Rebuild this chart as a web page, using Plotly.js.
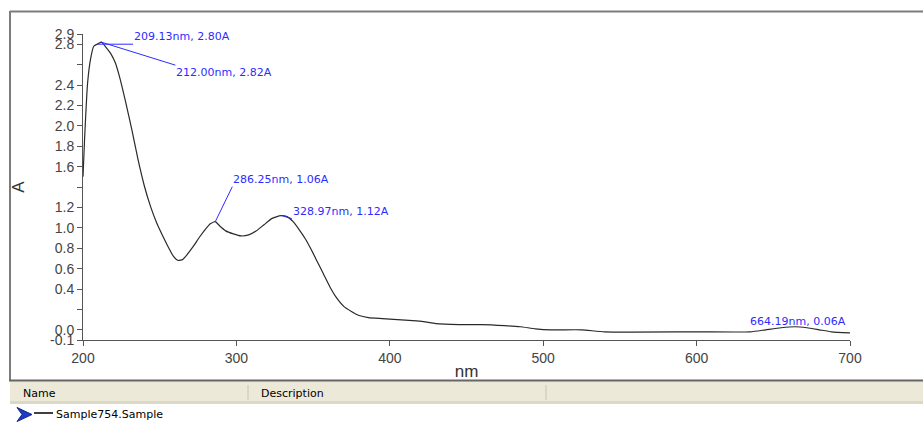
<!DOCTYPE html>
<html><head><meta charset="utf-8">
<script src="https://cdn.plot.ly/plotly-3.0.1.min.js"></script>
<style>html,body{margin:0;padding:0;background:#fff;overflow:hidden}#chart{width:923px;height:426px}</style>
</head><body><div id="chart"></div>
<script>
// ---- data ----
const wavelength = [200, 201, 203, 205, 207, 209.13, 212, 215, 218, 221, 224, 228, 232, 236, 240, 244, 248, 252, 256, 259, 262, 265, 268, 272, 276, 280, 283, 286.25, 289, 293, 298, 303, 308, 313, 318, 323, 328.97, 333, 337, 341, 345, 349, 353, 357, 361, 365, 370, 375, 380, 386, 395, 405, 415, 422, 430, 445, 460, 475, 485, 495, 505, 525, 540, 600, 635, 645, 655, 664.19, 672, 680, 688, 700];
const absorbance = [1.50, 1.86, 2.42, 2.66, 2.78, 2.80, 2.82, 2.77, 2.71, 2.62, 2.47, 2.22, 1.95, 1.66, 1.41, 1.21, 1.05, 0.92, 0.80, 0.72, 0.68, 0.69, 0.74, 0.82, 0.91, 0.99, 1.04, 1.06, 1.02, 0.97, 0.94, 0.92, 0.93, 0.97, 1.03, 1.09, 1.12, 1.11, 1.06, 0.98, 0.89, 0.78, 0.66, 0.54, 0.42, 0.32, 0.23, 0.18, 0.14, 0.12, 0.11, 0.10, 0.09, 0.08, 0.06, 0.05, 0.05, 0.04, 0.03, 0.01, 0.00, 0.00, -0.02, -0.02, -0.02, 0.00, 0.02, 0.03, 0.02, 0.00, -0.02, -0.03];
const peakNm = [209.13, 212.00, 286.25, 328.97, 664.19];
const peakA = [2.80, 2.82, 1.06, 1.12, 0.06];
const yTickVals = [-0.1, 0.0, 0.2, 0.4, 0.6, 0.8, 1.0, 1.2, 1.4, 1.6, 1.8, 2.0, 2.2, 2.4, 2.6, 2.8, 2.9];
const yTickText = ['-0.1', '0.0', '', '0.4', '0.6', '0.8', '1.0', '1.2', '', '1.6', '1.8', '2.0', '2.2', '2.4', '', '2.8', '2.9'];
const xTickVals = [200, 300, 400, 500, 600, 700];
const xTickText = ['200', '300', '400', '500', '600', '700'];
const seriesName = 'Sample754.Sample';
const columnHeaders = ['Name', 'Description'];

// ---- layout helpers (pixel -> paper) ----
const L = 83, R = 850, T = 34, B = 340;
function px(x){ return (x - L) / (R - L); }
function py(y){ return (B - y) / (B - T); }

const peakStyle = [
  {ax: 36, ay: 0, xanchor: 'left', yanchor: 'bottom'},
  {ax: 74, ay: 23, xanchor: 'left', yanchor: 'top'},
  {ax: 17, ay: -35, xanchor: 'left', yanchor: 'bottom'},
  {ax: 11, ay: 3, xanchor: 'left', yanchor: 'bottom'},
  {ax: 52, ay: 5, xanchor: 'right', yanchor: 'bottom'}
];

const blue = '#2c2cff';
const annotations = peakNm.map((nm, i) => Object.assign({
  x: nm, y: peakA[i], xref: 'x', yref: 'y',
  text: nm.toFixed(2) + 'nm, ' + peakA[i].toFixed(2) + 'A',
  showarrow: true, arrowhead: 0, arrowwidth: 1, arrowcolor: blue,
  borderpad: 0,
  font: {family: 'DejaVu Sans', size: 11, color: blue}
}, peakStyle[i]));

// table header and legend row texts
annotations.push({xref: 'paper', yref: 'paper', x: px(21), y: py(393), xanchor: 'left', yanchor: 'middle',
  text: columnHeaders[0], showarrow: false, font: {family: 'DejaVu Sans', size: 11, color: '#000'}});
annotations.push({xref: 'paper', yref: 'paper', x: px(259), y: py(393), xanchor: 'left', yanchor: 'middle',
  text: columnHeaders[1], showarrow: false, font: {family: 'DejaVu Sans', size: 11, color: '#000'}});
annotations.push({xref: 'paper', yref: 'paper', x: px(54), y: py(414), xanchor: 'left', yanchor: 'middle',
  text: seriesName, showarrow: false, font: {family: 'DejaVu Sans', size: 11, color: '#000'}});

const shapes = [
  // outer frame
  {type: 'line', xref: 'paper', yref: 'paper', x0: px(10), x1: px(923), y0: py(11.5), y1: py(11.5), line: {color: '#7c7c7c', width: 2}},
  {type: 'line', xref: 'paper', yref: 'paper', x0: px(10), x1: px(10), y0: py(11), y1: py(380), line: {color: '#7c7c7c', width: 2}},
  // header band
  {type: 'rect', xref: 'paper', yref: 'paper', x0: px(10), x1: px(923), y0: py(381), y1: py(404), fillcolor: '#ece9d8', line: {width: 0}},
  {type: 'rect', xref: 'paper', yref: 'paper', x0: px(10), x1: px(923), y0: py(401), y1: py(404), fillcolor: '#dcd8c6', line: {width: 0}},
  {type: 'line', xref: 'paper', yref: 'paper', x0: px(9), x1: px(923), y0: py(380.5), y1: py(380.5), line: {color: '#666666', width: 2}},
  {type: 'line', xref: 'paper', yref: 'paper', x0: px(248), x1: px(248), y0: py(385), y1: py(400), line: {color: '#c8c4b4', width: 1}},
  {type: 'line', xref: 'paper', yref: 'paper', x0: px(546), x1: px(546), y0: py(385), y1: py(400), line: {color: '#c8c4b4', width: 1}},
  // legend marker: arrow + line
  {type: 'path', xref: 'paper', yref: 'paper',
   path: 'M' + px(17) + ',' + py(407.5) + ' L' + px(32) + ',' + py(414.5) + ' L' + px(17) + ',' + py(421.5) + ' L' + px(22) + ',' + py(414.5) + ' Z',
   fillcolor: '#1c3bc4', line: {color: '#14258a', width: 1}},
  {type: 'line', xref: 'paper', yref: 'paper', x0: px(34), x1: px(53), y0: py(413), y1: py(413), line: {color: '#000', width: 1.5}}
];

const trace = {
  x: wavelength, y: absorbance, type: 'scatter', mode: 'lines', name: seriesName,
  line: {color: '#2a2a2a', width: 1.2, shape: 'spline', smoothing: 0.5},
  hoverinfo: 'skip'
};

const axisFont = {family: 'Liberation Sans, Arial, sans-serif', size: 14, color: '#444'};
const layout = {
  width: 923, height: 426,
  margin: {l: L, r: 923 - R, t: T, b: 426 - B, pad: 0},
  paper_bgcolor: '#fff', plot_bgcolor: '#fff',
  showlegend: false, hovermode: false,
  xaxis: {
    range: [200, 700], tickmode: 'array', tickvals: xTickVals, ticktext: xTickText,
    ticks: 'outside', ticklen: 5, tickcolor: '#555', tickwidth: 1,
    showline: true, linecolor: '#555', linewidth: 1, showgrid: false, zeroline: false,
    tickfont: axisFont, automargin: false,
    title: {text: 'nm', font: {family: 'Liberation Sans, Arial, sans-serif', size: 17, color: '#333'}, standoff: 0}
  },
  yaxis: {
    range: [-0.1, 2.9], tickmode: 'array', tickvals: yTickVals, ticktext: yTickText,
    ticks: 'outside', ticklen: 5, tickcolor: '#555', tickwidth: 1,
    showline: true, linecolor: '#555', linewidth: 1, showgrid: false, zeroline: false,
    tickfont: axisFont, automargin: false,
    title: {text: 'A', font: {family: 'Liberation Sans, Arial, sans-serif', size: 17, color: '#333'}, standoff: 21}
  },
  annotations: annotations,
  shapes: shapes
};

Plotly.newPlot('chart', [trace], layout, {staticPlot: true, displayModeBar: false});
</script>
</body></html>
